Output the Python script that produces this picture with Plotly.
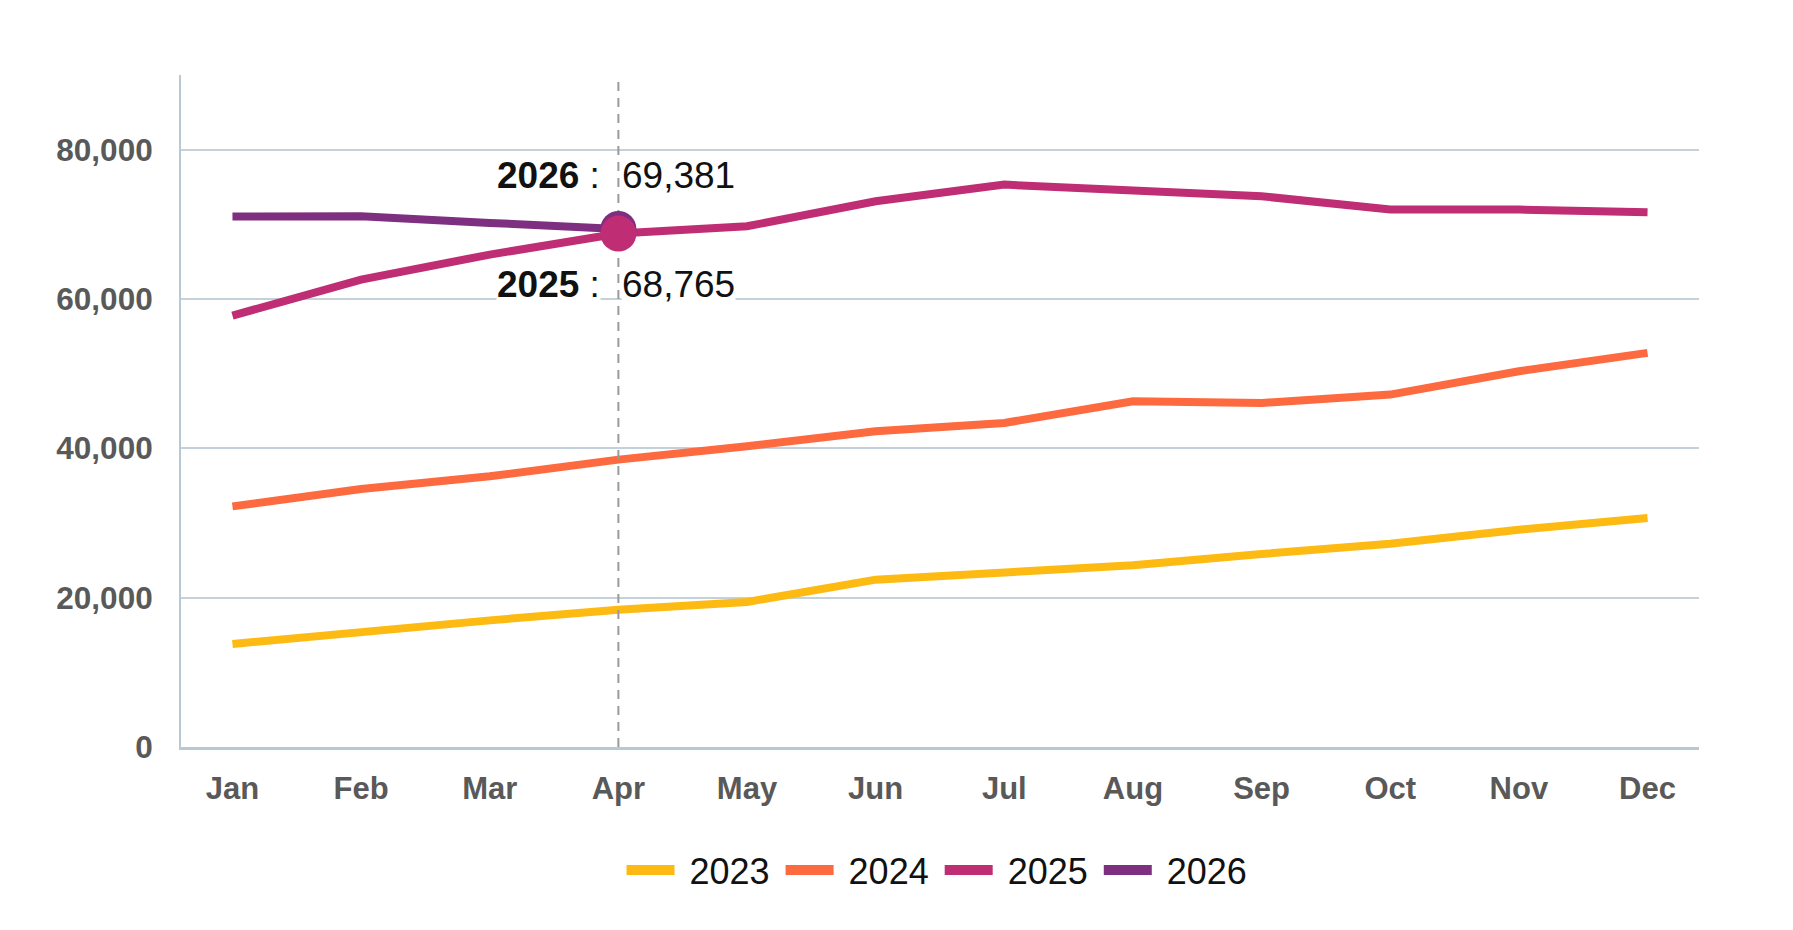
import plotly.graph_objects as go

months = ["Jan", "Feb", "Mar", "Apr", "May", "Jun", "Jul", "Aug", "Sep", "Oct", "Nov", "Dec"]
v2023 = [13800, 15490, 16960, 18390, 19420, 22410, 23390, 24330, 25850, 27230, 29110, 30680]
v2024 = [32230, 34560, 36250, 38490, 40270, 42280, 43400, 46300, 46080, 47200, 50320, 52780]
v2025 = [57780, 62600, 65950, 68765, 69740, 73090, 75320, 74430, 73760, 71980, 71980, 71620]
v2026 = [71040, 71080, 70190, 69381]
years = ["2023", "2024", "2025", "2026"]
colors = ["#FDBA12", "#FD6A3F", "#BF2D74", "#7E2F7F"]
series = [v2023, v2024, v2025, v2026]
y_ticks = [0, 20000, 40000, 60000, 80000]
hover_idx = 3

FONT = "Liberation Sans, Arial, sans-serif"
NB = "\u00a0"
SIXTH = "\u2006"

fig = go.Figure()

# lines, drawn so that 2025 sits on top of 2026
draw_order = [0, 1, 3, 2]
for i in draw_order:
    vals = series[i]
    fig.add_trace(go.Scatter(
        x=months[:len(vals)], y=vals, mode="lines",
        line=dict(color=colors[i], width=8),
        showlegend=False, hoverinfo="skip", name=years[i]))

# crosshair at hovered month
fig.add_trace(go.Scatter(
    x=[months[hover_idx], months[hover_idx]], y=[0, 90000], mode="lines",
    line=dict(color="#9a9a9a", width=2, dash="9px,7px"),
    showlegend=False, hoverinfo="skip"))

# hover markers
for i in [3, 2]:
    fig.add_trace(go.Scatter(
        x=[months[hover_idx]], y=[series[i][hover_idx]], mode="markers",
        marker=dict(color=colors[i], size=36, line=dict(width=0)),
        showlegend=False, hoverinfo="skip"))

# legend entries
for i in range(4):
    fig.add_trace(go.Scatter(
        x=[None], y=[None], mode="lines", name=NB + years[i] + SIXTH,
        line=dict(color=colors[i], width=12)))

# tooltip labels
for i, shift in [(3, 53), (2, -51)]:
    val = series[i][hover_idx]
    fig.add_annotation(
        x=months[hover_idx], y=val, xref="x", yref="y",
        text=f"<b>{years[i]}</b> :", showarrow=False,
        xanchor="right", yanchor="middle", xshift=-17, yshift=shift,
        font=dict(family=FONT, size=37, color="#111111"),
        bgcolor="white", borderpad=0)
    fig.add_annotation(
        x=months[hover_idx], y=val, xref="x", yref="y",
        text=f"{val:,}", showarrow=False,
        xanchor="left", yanchor="middle", xshift=3, yshift=shift,
        font=dict(family=FONT, size=37, color="#111111"),
        bgcolor="white", borderpad=0)

fig.update_layout(
    width=1785, height=922, autosize=False,
    margin=dict(l=173, r=94, t=67, b=183),
    paper_bgcolor="white", plot_bgcolor="white",
    showlegend=True,
    legend=dict(orientation="h", x=0.5, xanchor="center", y=-0.183, yanchor="middle",
                font=dict(family=FONT, size=36, color="#111111"),
                itemwidth=48, bgcolor="rgba(0,0,0,0)"),
    xaxis=dict(
        type="category", categoryorder="array", categoryarray=months,
        range=[-0.4, 11.4], showgrid=False, zeroline=False,
        showline=True, linecolor="#b9c9d4", linewidth=3,
        ticks="", ticklabelstandoff=12,
        tickfont=dict(family=FONT, size=31, color="#595959", weight="bold")),
    yaxis=dict(
        range=[0, 90000], tickvals=y_ticks, tickformat=",d",
        showgrid=True, gridcolor="#c3d1da", gridwidth=2,
        zeroline=False, showline=True, linecolor="#b9c9d4", linewidth=2,
        ticks="", ticklabelstandoff=20,
        tickfont=dict(family=FONT, size=31.5, color="#595959", weight="bold")),
)

fig.write_html("out.html")
